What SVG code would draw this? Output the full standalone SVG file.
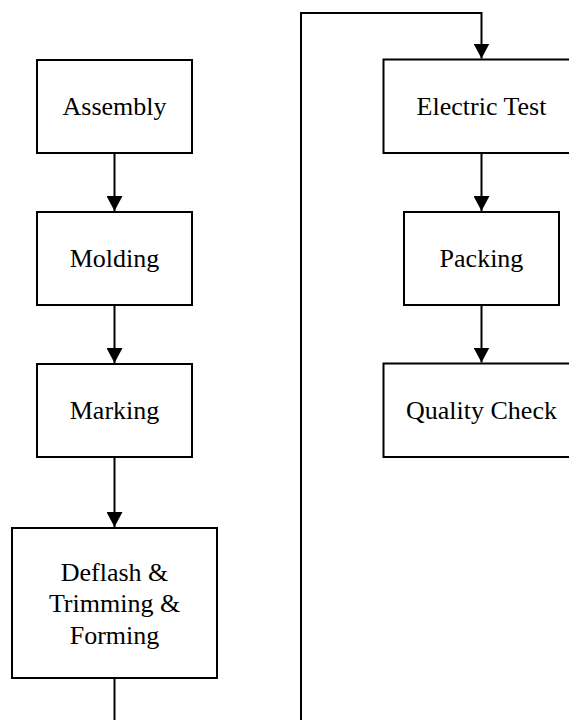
<svg xmlns="http://www.w3.org/2000/svg" width="569" height="720" viewBox="0 0 569 720">
  <style>
    .box { fill: #ffffff; stroke: #000000; stroke-width: 2; }
    .wire { fill: none; stroke: #000000; stroke-width: 2; }
    .lbl { font-family: "Liberation Serif", "Times New Roman", serif; font-size: 26px; fill: #000000; text-anchor: middle; }
  </style>
  <defs>
    <marker id="arrow" markerUnits="userSpaceOnUse" markerWidth="16" markerHeight="16" viewBox="0 0 16 16" refX="15" refY="8" orient="auto">
      <path d="M0,0 L15,8 L0,16 Z" fill="#000000"/>
    </marker>
  </defs>
  <rect width="569" height="720" fill="#ffffff"/>

  <g id="connectors">
    <line class="wire" x1="114.5" y1="153" x2="114.5" y2="211" marker-end="url(#arrow)"/>
    <line class="wire" x1="114.5" y1="305" x2="114.5" y2="363" marker-end="url(#arrow)"/>
    <line class="wire" x1="114.5" y1="457" x2="114.5" y2="527" marker-end="url(#arrow)"/>
    <line class="wire" x1="114.5" y1="678" x2="114.5" y2="722"/>
    <polyline class="wire" points="301,722 301,13 481.5,13 481.5,58.5" marker-end="url(#arrow)"/>
    <line class="wire" x1="481.5" y1="153" x2="481.5" y2="211" marker-end="url(#arrow)"/>
    <line class="wire" x1="481.5" y1="305" x2="481.5" y2="362.5" marker-end="url(#arrow)"/>
  </g>

  <g id="assembly">
    <rect class="box" x="37" y="60" width="155" height="93"/>
    <text class="lbl" x="114.5" y="115">Assembly</text>
  </g>
  <g id="molding">
    <rect class="box" x="37" y="212" width="155" height="93"/>
    <text class="lbl" x="114.5" y="267">Molding</text>
  </g>
  <g id="marking">
    <rect class="box" x="37" y="364" width="155" height="93"/>
    <text class="lbl" x="114.5" y="419">Marking</text>
  </g>
  <g id="deflash">
    <rect class="box" x="12" y="528" width="205" height="150"/>
    <text class="lbl" x="114.5" y="580.5">Deflash &amp;</text>
    <text class="lbl" x="114.5" y="612">Trimming &amp;</text>
    <text class="lbl" x="114.5" y="643.5">Forming</text>
  </g>
  <g id="electric-test">
    <rect class="box" x="383.5" y="59.5" width="200" height="93.5"/>
    <text class="lbl" x="481.5" y="115">Electric Test</text>
  </g>
  <g id="packing">
    <rect class="box" x="404" y="212" width="155" height="93"/>
    <text class="lbl" x="481.5" y="267">Packing</text>
  </g>
  <g id="quality-check">
    <rect class="box" x="383.5" y="363.5" width="200" height="93.5"/>
    <text class="lbl" x="481.5" y="419">Quality Check</text>
  </g>
</svg>
